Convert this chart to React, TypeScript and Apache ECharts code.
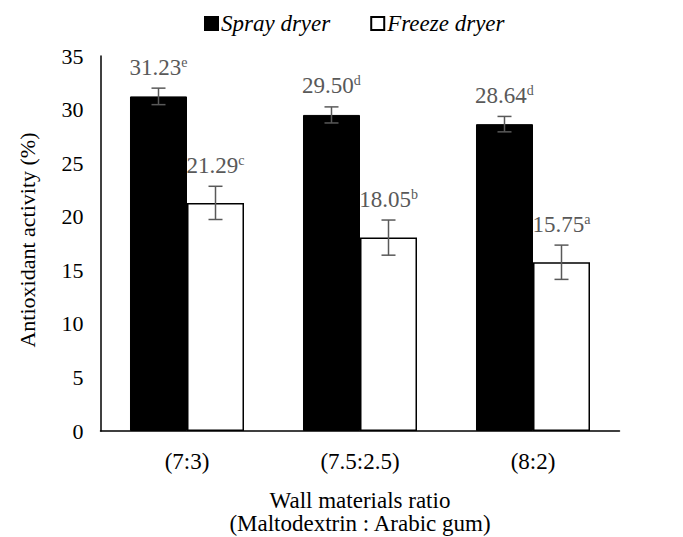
import React, { useEffect, useRef } from "react";
import * as echarts from "echarts";

const categories = ["(7:3)", "(7.5:2.5)", "(8:2)"];
const sprayValues = [31.23, 29.5, 28.64];
const freezeValues = [21.29, 18.05, 15.75];
const sprayErrors = [0.77, 0.75, 0.72];
const freezeErrors = [1.55, 1.64, 1.6];
const sprayLetters = ["e", "d", "d"];
const freezeLetters = ["c", "b", "a"];
const yTicks = { min: 0, max: 35, interval: 5 };

const FONT = "Liberation Serif";
const CAT_GAP = 0.341;

function makeErrSeries(name: string, values: number[], errs: number[], letters: string[], side: number) {
  return {
    type: "custom",
    name: name + "err",
    silent: true,
    z: 5,
    data: values.map((v, i) => [i, v, errs[i]]),
    renderItem: (params: any, api: any) => {
      const idx = api.value(0);
      const v = api.value(1);
      const e = api.value(2);
      const catW = api.size([1, 0])[0];
      const barW = (catW * (1 - CAT_GAP)) / 2;
      const c = api.coord([idx, v]);
      const x = c[0] + (side * barW) / 2;
      const top = api.coord([idx, v + e])[1];
      const bot = api.coord([idx, v - e])[1];
      const cap = 7;
      const st = { stroke: "#595959", lineWidth: 1.5 };
      return {
        type: "group",
        children: [
          { type: "line", shape: { x1: x, y1: top, x2: x, y2: bot }, style: st },
          { type: "line", shape: { x1: x - cap, y1: top, x2: x + cap, y2: top }, style: st },
          { type: "line", shape: { x1: x - cap, y1: bot, x2: x + cap, y2: bot }, style: st },
          {
            type: "text",
            x: x,
            y: top - 9,
            style: {
              text: "{v|" + v.toFixed(2) + "}{s|" + letters[params.dataIndex] + "}",
              align: "center",
              verticalAlign: "bottom",
              fill: "#595959",
              fontFamily: FONT,
              fontSize: 23,
              rich: {
                v: { fontSize: 23, fontFamily: FONT, fill: "#595959", lineHeight: 24 },
                s: { fontSize: 14, fontFamily: FONT, fill: "#595959", verticalAlign: "top", lineHeight: 24 },
              },
            },
          },
        ],
      };
    },
  };
}

export default function App() {
  const ref = useRef<HTMLDivElement>(null);
  useEffect(() => {
    document.body.style.margin = "0";
    if (!ref.current) return;
    const chart = echarts.init(ref.current, null, { renderer: "svg" });
    chart.setOption({
      animation: false,
      backgroundColor: "#ffffff",
      grid: { left: 100.5, right: 63.5, top: 56, bottom: 106, containLabel: false },
      legend: {
        top: 7,
        left: 199,
        itemWidth: 13,
        itemHeight: 13,
        itemGap: 40,
        icon: "rect",
        data: ["Spray dryer", "Freeze dryer"],
        textStyle: { fontFamily: FONT, fontSize: 23, fontStyle: "italic", color: "#000", padding: [0, 0, 0, -2] },
      },
      xAxis: {
        type: "category",
        data: categories,
        axisLine: { show: true, lineStyle: { color: "#000", width: 1.5 } },
        axisTick: { show: false },
        axisLabel: { fontFamily: FONT, fontSize: 23, color: "#000", margin: 19 },
      },
      yAxis: {
        type: "value",
        min: yTicks.min,
        max: yTicks.max,
        interval: yTicks.interval,
        axisLine: { show: true, lineStyle: { color: "#000", width: 1.5 } },
        axisTick: { show: false },
        splitLine: { show: false },
        axisLabel: { fontFamily: FONT, fontSize: 22, color: "#000", margin: 17 },
      },
      graphic: [
        {
          type: "text",
          x: 27,
          y: 240,
          rotation: Math.PI / 2,
          style: {
            text: "Antioxidant activity (%)",
            align: "center",
            verticalAlign: "middle",
            fontFamily: FONT,
            fontSize: 22,
            fill: "#000",
          },
        },
        {
          type: "text",
          x: 360,
          y: 511.5,
          style: {
            text: "Wall materials ratio\n(Maltodextrin : Arabic gum)",
            align: "center",
            verticalAlign: "middle",
            fontFamily: FONT,
            fontSize: 23,
            lineHeight: 23,
            fill: "#000",
          },
        },
      ],
      series: [
        {
          name: "Spray dryer",
          type: "bar",
          data: sprayValues,
          barGap: "0%",
          barCategoryGap: CAT_GAP * 100 + "%",
          itemStyle: { color: "#000", borderColor: "#000", borderWidth: 1 },
        },
        {
          name: "Freeze dryer",
          type: "bar",
          data: freezeValues,
          barGap: "0%",
          barCategoryGap: CAT_GAP * 100 + "%",
          itemStyle: { color: "#fff", borderColor: "#000", borderWidth: 1.5 },
        },
        makeErrSeries("Spray dryer", sprayValues, sprayErrors, sprayLetters, -1),
        makeErrSeries("Freeze dryer", freezeValues, freezeErrors, freezeLetters, 1),
      ],
    });
    return () => chart.dispose();
  }, []);
  return <div ref={ref} style={{ width: 683, height: 537 }} />;
}
